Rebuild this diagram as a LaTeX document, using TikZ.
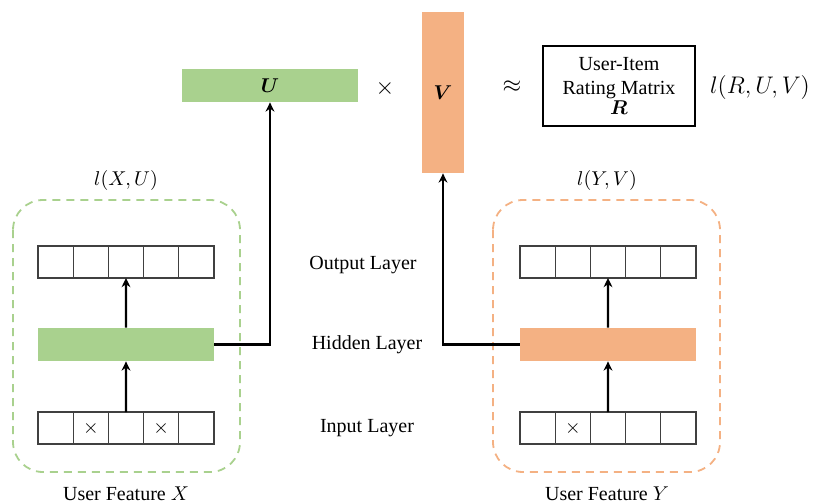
\documentclass[tikz,border=0pt]{standalone}
\usepackage{amsmath}
\usepackage{fontspec}
\setmainfont{Liberation Serif}
\usetikzlibrary{arrows.meta, positioning, backgrounds}
\definecolor{cUser}{HTML}{A9D18E}
\definecolor{cItem}{HTML}{F4B183}
\definecolor{cCell}{HTML}{404040}

\begin{document}
\begin{tikzpicture}[
  x=0.5pt, y=-0.5pt,
  >={Stealth[length=4.6pt, width=4.4pt]},
  cell/.style={rectangle, draw=cCell, line width=0.6pt, minimum width=17.6pt,
               minimum height=16pt, inner sep=0pt, outer sep=0pt},
  hid/.style={rectangle, fill=#1, minimum width=88pt, minimum height=16.5pt, inner sep=0pt},
  fac/.style={rectangle, fill=#1, inner sep=0pt},
  flow/.style={->, line width=1.2pt},
  elbow/.style={->, line width=1.2pt, rounded corners=0pt},
  group/.style={draw=#1, dash pattern=on 4pt off 3pt, rounded corners=15pt, line width=0.9pt},
  lbl/.style={inner sep=1pt},
]
\useasboundingbox (0,0) rectangle (813,503);

% =========================== TOP : factorisation ===========================
\node[fac=cUser, minimum width=88pt, minimum height=16.5pt] (U) at (270,85.5) {$\boldsymbol{U}$};
\node[lbl, font=\large] (times) at (385,88) {$\times$};
\node[fac=cItem, minimum width=21pt, minimum height=80.5pt] (V) at (443,92.5) {$\boldsymbol{V}$};
\node[lbl, font=\large] (approx) at (512,87) {$\approx$};
\node[rectangle, draw, line width=0.6pt, minimum width=76pt, minimum height=40pt,
      align=center, inner sep=0pt] (R) at (619,86) {User-Item\\Rating Matrix\\[-2pt]$\boldsymbol{R}$};
\node[lbl, font=\large] (lossR) at (760,87) {$l(R,U,V)$};

% =========================== LEFT : user network ===========================
\foreach \i/\t in {1/,2/,3/,4/,5/}
  \node[cell] (lo\i) at ({20.4+35.2*\i},262) {\t};
\node[hid=cUser] (lh) at (126,344.5) {};
\foreach \i/\t in {1/,2/$\times$,3/,4/$\times$,5/}
  \node[cell] (li\i) at ({20.4+35.2*\i},428) {\t};

\node[lbl] (lossX) at (126,180) {$l(X,U)$};
\node[lbl] (featX) at (126,494) {User Feature $X$};

% =========================== RIGHT : item network ===========================
\foreach \i/\t in {1/,2/,3/,4/,5/}
  \node[cell] (ro\i) at ({502.4+35.2*\i},262) {\t};
\node[hid=cItem] (rh) at (608,344.5) {};
\foreach \i/\t in {1/,2/$\times$,3/,4/,5/}
  \node[cell] (ri\i) at ({502.4+35.2*\i},428) {\t};

\node[lbl] (lossY) at (607,180) {$l(Y,V)$};
\node[lbl] (featY) at (607,494) {User Feature $Y$};

% layer names in the middle
\node[lbl] (outL) at (363,265) {Output Layer};
\node[lbl] (hidL) at (367,345) {Hidden Layer};
\node[lbl] (inL)  at (367,428) {Input Layer};

\foreach \a/\b in {li3/lh, lh/lo3, ri3/rh, rh/ro3}
  \draw[flow] (\a.north) -- (\b.south);

\draw[elbow] (lh.east) -| (U.south);
\draw[elbow] (rh.west) -| (V.south);

\begin{scope}[on background layer]
  \draw[group=cUser] (13,200) rectangle (240,472);
  \draw[group=cItem] (493,200) rectangle (720,472);
\end{scope}

\end{tikzpicture}
\end{document}
